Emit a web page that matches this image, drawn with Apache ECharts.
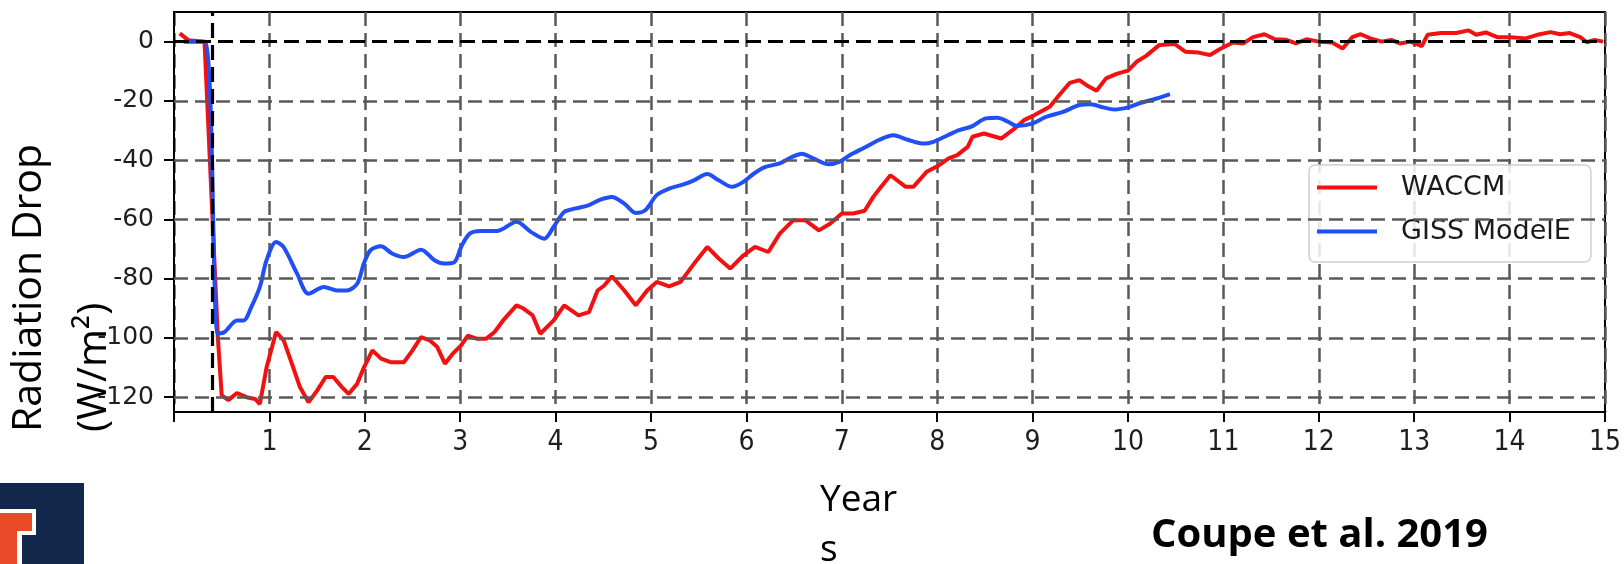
<!DOCTYPE html>
<html>
<head>
<meta charset="utf-8">
<style>
  html, body { margin: 0; padding: 0; background: #fff; }
  #chart { width: 1624px; height: 564px; }
</style>
<script src="https://cdn.jsdelivr.net/npm/echarts@6/dist/echarts.min.js"></script>
</head>
<body>
<div id="chart"></div>
<script>
// ---- data ----
const xTicks = [1, 2, 3, 4, 5, 6, 7, 8, 9, 10, 11, 12, 13, 14, 15];
const yTicks = [-120, -100, -80, -60, -40, -20, 0];
const yGrid = [-120, -100, -80, -60, -40, -20];
const zeroLine = [0];
const eruptionYear = [0.4];

const waccm = [
  [0.06, 2.8], [0.15, 0.5], [0.32, 0], [0.46, -100], [0.50, -119.4], [0.57, -121], [0.66, -118.6],
  [0.76, -120], [0.85, -120.6], [0.90, -122.3], [0.97, -110], [1.07, -98], [1.15, -100.8],
  [1.25, -110], [1.32, -116.6], [1.41, -121.7], [1.50, -117.8], [1.59, -113.2], [1.67, -113.2],
  [1.76, -116.6], [1.83, -118.9], [1.92, -115.5], [1.99, -110], [2.08, -104.2], [2.17, -107],
  [2.27, -108.2], [2.41, -108.2], [2.50, -104.2], [2.59, -99.7], [2.68, -100.8], [2.76, -103.1],
  [2.84, -108.7], [2.92, -105.4], [3.01, -102.5], [3.08, -99.2], [3.18, -100.3], [3.27, -100.3],
  [3.36, -98], [3.45, -94.1], [3.59, -89], [3.66, -90], [3.76, -92.4], [3.84, -98.6], [3.98, -94.1],
  [4.09, -89], [4.24, -92.4], [4.35, -91.3], [4.44, -84], [4.51, -82.3], [4.59, -79.2], [4.72, -84],
  [4.84, -89], [4.96, -84], [5.06, -81.1], [5.19, -82.6], [5.31, -81.1], [5.45, -75], [5.59, -69.3],
  [5.71, -73.2], [5.83, -76.6], [5.97, -72.1], [6.09, -69.3], [6.23, -71], [6.35, -64.8],
  [6.49, -60.3], [6.62, -60.3], [6.76, -63.7], [6.88, -61.4], [7.0, -58], [7.12, -58], [7.24, -57.1],
  [7.33, -52.4], [7.40, -49.5], [7.51, -45.1], [7.67, -49], [7.75, -49], [7.89, -43.9], [8.02, -41.7],
  [8.12, -39.4], [8.21, -38.3], [8.32, -35.5], [8.37, -32.1], [8.49, -31], [8.67, -32.7],
  [8.79, -29.9], [8.91, -26.5], [9.02, -24.8], [9.18, -22], [9.28, -18], [9.39, -13.9], [9.49, -13],
  [9.58, -15], [9.67, -16.6], [9.77, -12.4], [9.88, -10.9], [10.0, -9.8], [10.09, -6.8],
  [10.19, -4.8], [10.33, -1.1], [10.49, -0.8], [10.6, -3.4], [10.74, -3.7], [10.86, -4.5],
  [10.96, -2.6], [11.1, -0.3], [11.21, -0.6], [11.31, 1.5], [11.43, 2.5], [11.54, 0.8], [11.66, 0.6],
  [11.76, -0.6], [11.87, 0.8], [12.0, 0], [12.14, -0.3], [12.25, -2.3], [12.35, 1.5], [12.44, 2.5],
  [12.54, 1.1], [12.66, 0], [12.76, 0.6], [12.85, -0.6], [12.96, 0], [13.08, -1.5], [13.14, 2.3],
  [13.28, 2.9], [13.44, 2.9], [13.57, 3.8], [13.65, 2.3], [13.75, 3.1], [13.87, 1.5], [14.01, 1.5],
  [14.17, 1.1], [14.29, 2.3], [14.43, 3.2], [14.53, 2.5], [14.63, 2.9], [14.74, 1.5], [14.81, -0.2],
  [14.89, 0.6], [14.98, 0]
];

const giss = [
  [0.1, 0], [0.32, 0], [0.46, -98.6], [0.53, -98], [0.66, -94.1], [0.73, -94.1], [0.81, -89.6],
  [0.90, -82.8], [0.97, -73.8], [1.07, -67.6], [1.15, -69.4], [1.29, -78.3], [1.41, -85.1],
  [1.57, -82.8], [1.71, -84], [1.81, -84], [1.92, -81.7], [1.99, -74.9], [2.06, -70.4], [2.17, -69.1],
  [2.29, -71.6], [2.41, -72.7], [2.59, -70.2], [2.73, -73.8], [2.83, -74.9], [2.94, -74.4],
  [3.01, -69.3], [3.10, -64.8], [3.22, -63.9], [3.39, -63.9], [3.59, -60.8], [3.74, -64.2],
  [3.88, -66.5], [3.98, -62.5], [4.09, -57.5], [4.21, -56.3], [4.35, -55.2], [4.47, -53.3],
  [4.59, -52.4], [4.72, -54.7], [4.84, -57.8], [4.94, -56.9], [5.06, -51.8], [5.19, -49.6],
  [5.34, -48.2], [5.45, -46.8], [5.59, -44.7], [5.71, -46.8], [5.85, -49], [5.97, -47.3],
  [6.08, -44.5], [6.20, -42.3], [6.35, -41.1], [6.48, -38.9], [6.58, -37.8], [6.70, -39.4],
  [6.86, -41.4], [6.98, -40.5], [7.09, -38.2], [7.23, -35.9], [7.39, -33.2], [7.54, -31.6],
  [7.70, -33.2], [7.86, -34.4], [7.96, -33.8], [8.11, -31.6], [8.23, -29.9], [8.37, -28.5],
  [8.51, -25.9], [8.63, -25.7], [8.74, -27], [8.84, -28.5], [9.0, -27.6], [9.14, -25.4],
  [9.32, -23.7], [9.49, -21.4], [9.61, -21.1], [9.74, -22.2], [9.86, -22.9], [10.0, -22.2],
  [10.12, -20.8], [10.30, -19.2], [10.44, -17.7]
];

const seriesNames = ['WACCM', 'GISS ModelE'];
const yTitleLines = ['Radiation Drop', '(W/m\u00b2)'];
const xTitleLines = ['Year', 's'];
const citation = 'Coupe et al. 2019';

// ---- chart ----
const chart = echarts.init(document.getElementById('chart'), null, { renderer: 'canvas' });

const gridDash = { color: '#595959', width: 2.5, type: [14, 7] };
const blackDash = { color: '#000', width: 3.2, type: [15, 7] };

const option = {
  animation: false,
  backgroundColor: '#fff',
  grid: {
    left: 174, top: 12, right: 18, bottom: 152,
    show: true, borderColor: '#000', borderWidth: 2, backgroundColor: 'transparent'
  },
  xAxis: {
    type: 'value', min: 0, max: 15, interval: 1,
    axisLine: { show: true, onZero: false, lineStyle: { color: '#000', width: 2 } },
    axisTick: { show: true, length: 10, lineStyle: { color: '#000', width: 2 } },
    axisLabel: {
      margin: 17, fontSize: 28, color: '#1e1e1e',
      fontFamily: '"DejaVu Sans Condensed", "DejaVu Sans", sans-serif',
      formatter: v => (xTicks.indexOf(v) >= 0 ? String(v) : '')
    },
    splitLine: { show: true, lineStyle: gridDash }
  },
  yAxis: {
    type: 'value', min: -125, max: 10,
    axisLine: { show: true, onZero: false, lineStyle: { color: '#000', width: 2 } },
    axisTick: { show: true, length: 10, customValues: yTicks, lineStyle: { color: '#000', width: 2 } },
    axisLabel: {
      margin: 20, fontSize: 25, color: '#1e1e1e', customValues: yTicks,
      fontFamily: '"DejaVu Sans", sans-serif',
      formatter: v => String(v)
    },
    splitLine: { show: false }
  },
  legend: {
    data: seriesNames,
    orient: 'vertical',
    left: 1309, top: 165,
    icon: 'rect', itemWidth: 60, itemHeight: 4, itemGap: 17,
    padding: [9, 20, 17, 8],
    backgroundColor: 'rgba(255,255,255,0.85)',
    borderColor: '#d0d0d0', borderWidth: 1.5, borderRadius: 6,
    textStyle: { fontSize: 27, color: '#1a1a1a', fontFamily: '"DejaVu Sans", sans-serif', padding: [0, 0, 0, 19] }
  },
  series: [
    {
      name: 'grid-h', type: 'line', data: [], z: 1, silent: true,
      markLine: {
        silent: true, symbol: 'none', label: { show: false }, animation: false,
        lineStyle: gridDash,
        data: yGrid.map(v => ({ yAxis: v }))
      }
    },
    {
      name: seriesNames[0], type: 'line', data: waccm, z: 3,
      showSymbol: false, symbol: 'none', smooth: false,
      lineStyle: { color: '#f21010', width: 4 }, itemStyle: { color: '#f21010' }
    },
    {
      name: seriesNames[1], type: 'line', data: giss, z: 3,
      showSymbol: false, symbol: 'none', smooth: 0.3,
      lineStyle: { color: '#1f4ff5', width: 4 }, itemStyle: { color: '#1f4ff5' }
    },
    {
      name: 'ref-lines', type: 'line', data: [], z: 5, silent: true,
      markLine: {
        silent: true, symbol: 'none', label: { show: false }, animation: false,
        lineStyle: blackDash,
        data: zeroLine.map(v => ({ yAxis: v })).concat(eruptionYear.map(v => ({ xAxis: v })))
      }
    }
  ],
  graphic: [
    // logo
    { type: 'rect', shape: { x: 0, y: 483, width: 84, height: 81 }, style: { fill: '#13294B' }, silent: true },
    { type: 'polygon', shape: { points: [[0, 509], [36, 509], [36, 535], [22, 535], [22, 564], [0, 564]] }, style: { fill: '#ffffff' }, silent: true },
    { type: 'polygon', shape: { points: [[0, 513], [32, 513], [32, 531], [17, 531], [17, 564], [0, 564]] }, style: { fill: '#E84A27' }, silent: true },
    // y title
    { type: 'text', x: 29, y: 432, rotation: Math.PI / 2, silent: true,
      style: { text: yTitleLines[0], font: '41px "Open Sans", sans-serif', fill: '#000', align: 'left', verticalAlign: 'middle' } },
    { type: 'text', x: 94, y: 432, rotation: Math.PI / 2, silent: true,
      style: { text: yTitleLines[1], font: '41px "Open Sans", sans-serif', fill: '#000', align: 'left', verticalAlign: 'middle' } },
    // x title
    { type: 'text', x: 820, y: 500, silent: true,
      style: { text: xTitleLines[0], font: '37px "Open Sans", sans-serif', fill: '#000', align: 'left', verticalAlign: 'middle' } },
    { type: 'text', x: 820, y: 550, silent: true,
      style: { text: xTitleLines[1], font: '37px "Open Sans", sans-serif', fill: '#000', align: 'left', verticalAlign: 'middle' } },
    // citation
    { type: 'text', x: 1151, y: 536, silent: true,
      style: { text: citation, font: 'bold 40px "Open Sans", sans-serif', fill: '#000', align: 'left', verticalAlign: 'middle' } }
  ]
};

chart.setOption(option);
</script>
</body>
</html>
